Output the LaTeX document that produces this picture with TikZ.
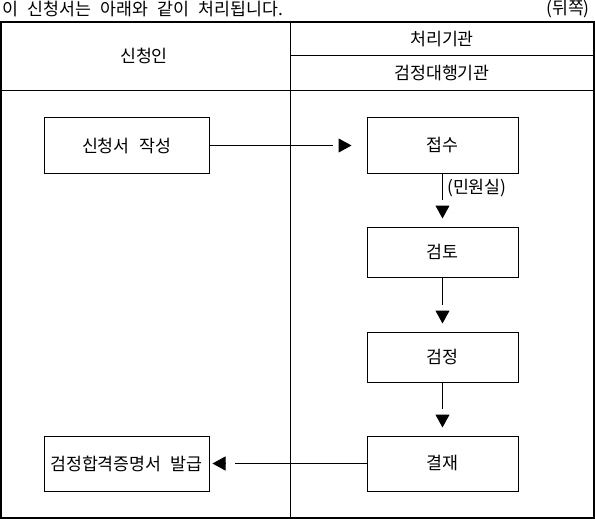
\documentclass[tikz,border=0pt]{standalone}
\usepackage{fontspec}
\setmainfont{Noto Sans CJK KR}[WordSpace=2.4]
\usetikzlibrary{arrows.meta}
\begin{document}
\begin{tikzpicture}[x=1pt,y=-1pt,
  txt/.style={font=\fontsize{17.3}{19}\selectfont,inner sep=0pt},
  stepbox/.style={txt,draw,line width=1pt},
  widebox/.style={stepbox,minimum width=165pt,minimum height=55pt},
  procbox/.style={stepbox,minimum width=151pt,minimum height=55pt},
  shortbox/.style={stepbox,minimum width=151pt,minimum height=50pt},
  frame/.style={line width=2pt},
  rule/.style={line width=1pt},
  flowline/.style={line width=1pt},
  flowtip/.style={line width=1pt,-{Triangle[length=13pt,width=14pt]}}
]
\useasboundingbox (0,0) rectangle (595,519);
% title line
\node[txt,anchor=west] (title) at (2,9) {이 신청서는 아래와 같이 처리됩니다.};
\node[txt,anchor=east] (side) at (590,9) {(뒤쪽)};
% frame
\draw[frame] (1,22) rectangle (594,518);
\coordinate (divtop) at (290.5,22);
\coordinate (divbot) at (290.5,518);
\coordinate (hl) at (1,90.5);
\coordinate (hr) at (594,90.5);
\coordinate (sl) at (290.5,56);
\coordinate (sr) at (594,56);
\draw[rule] (divtop) -- (divbot);
\draw[rule] (hl) -- (hr);
\draw[rule] (sl) -- (sr);
% headers
\node[txt] (applicant) at (144,55.5) {신청인};
\node[txt] (agency) at (442,39) {처리기관};
\node[txt] (proxy) at (442,73.5) {검정대행기관};
% boxes
\node[widebox] (apply) at (126.5,145.5) {신청서 작성};
\node[procbox] (receive) at (442.5,145.5) {접수};
\node[shortbox] (review) at (442.5,252) {검토};
\node[shortbox] (exam) at (442.5,357) {검정};
\node[procbox] (approve) at (442.5,463.5) {결재};
\node[widebox] (issue) at (126.5,463.5) {검정합격증명서 발급};
% connectors: line, gap, separate triangle head
\draw[flowline,shorten >=34pt] (apply) -- (receive);
\draw[flowtip] ([xshift=-28pt]receive.west) -- ([xshift=-15pt]receive.west);
\draw[flowline,shorten >=27pt] (receive) -- (review);
\draw[flowtip] ([yshift=21pt]review.north) -- ([yshift=8pt]review.north);
\node[txt,anchor=west] (office) at (447,188) {(민원실)};
\draw[flowline,shorten >=27pt] (review) -- (exam);
\draw[flowtip] ([yshift=21pt]exam.north) -- ([yshift=8pt]exam.north);
\draw[flowline,shorten >=27pt] (exam) -- (approve);
\draw[flowtip] ([yshift=21pt]approve.north) -- ([yshift=8pt]approve.north);
\draw[flowline,shorten >=25pt] (approve) -- (issue);
\draw[flowtip] ([xshift=16pt]issue.east) -- ([xshift=3pt]issue.east);
\end{tikzpicture}
\end{document}
